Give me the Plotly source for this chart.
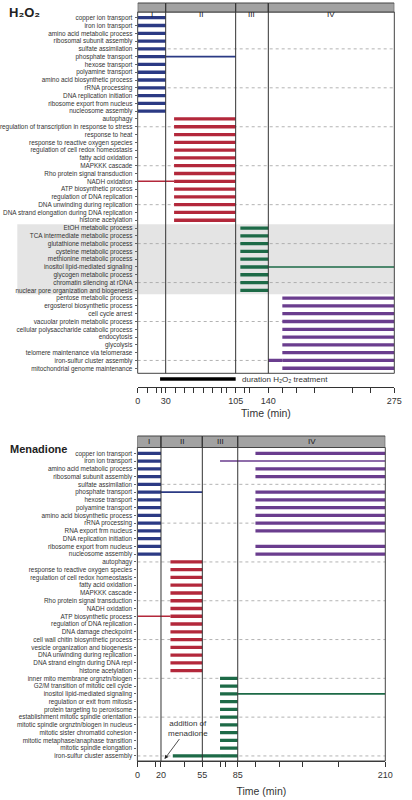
import plotly.graph_objects as go

W, H = 412, 800

# ---------------- H2O2 panel data ----------------
h2o2_blue = ["copper ion transport", "iron ion transport", "amino acid metabolic process",
             "ribosomal subunit assembly", "sulfate assimilation", "phosphate transport",
             "hexose transport", "polyamine transport", "amino acid biosynthetic process",
             "rRNA processing", "DNA replication initiation", "ribosome export from nucleus",
             "nucleosome assembly"]
h2o2_red = ["autophagy", "regulation of transcription in response to stress", "response to heat",
            "response to reactive oxygen species", "regulation of cell redox homeostasis",
            "fatty acid oxidation", "MAPKKK cascade", "Rho protein signal transduction",
            "NADH oxidation", "ATP biosynthetic process", "regulation of DNA replication",
            "DNA unwinding during replication", "DNA strand elongation during DNA replication",
            "histone acetylation"]
h2o2_green = ["EtOH metabolic process", "TCA intermediate metabolic process",
              "glutathione metabolic process", "cysteine metabolic process",
              "methionine metabolic process", "inositol lipid-mediated signaling",
              "glycogen metabolic process", "chromatin silencing at rDNA",
              "nuclear pore organization and biogenesis"]
h2o2_purple = ["pentose metabolic process", "ergosterol biosynthetic process", "cell cycle arrest",
               "vacuolar protein metabolic process", "cellular polysaccharide catabolic process",
               "endocytosis", "glycolysis", "telomere maintenance via telomerase",
               "iron-sulfur cluster assembly", "mitochondrial genome maintenance"]
h2o2_phase_bounds = [0, 30, 105, 140, 275]
h2o2_group_span = {"blue": (0, 30), "red": (39, 105), "green": (110, 140), "purple": (155, 275)}
h2o2_extra = [
    ("phosphate transport", 30, 105, "blue", "thin"),
    ("NADH oxidation", 0, 39, "red", "thin"),
    ("inositol lipid-mediated signaling", 140, 275, "green", "thin"),
    ("iron-sulfur cluster assembly", 140, 155, "purple", "thick"),
]
h2o2_tick_labeled = [0, 30, 105, 140, 275]
h2o2_tick_minor = [10, 20, 25, 40, 50, 60, 70, 80, 90, 95, 115, 120, 155, 170, 190, 230, 250]
h2o2_treatment = (24, 105)

# ---------------- Menadione panel data ----------------
men_blue = ["copper ion transport", "iron ion transport", "amino acid metabolic process",
            "ribosomal subunit assembly", "sulfate assimilation", "phosphate transport",
            "hexose transport", "polyamine transport", "amino acid biosynthetic process",
            "rRNA processing", "RNA export frm nucleus", "DNA replication initiation",
            "ribosome export from nucleus", "nucleosome assembly"]
men_red = ["autophagy", "response to reactive oxygen species", "regulation of cell redox homeostasis",
           "fatty acid oxidation", "MAPKKK cascade", "Rho protein signal transduction",
           "NADH oxidation", "ATP biosynthetic process", "regulation of DNA replication",
           "DNA damage checkpoint", "cell wall chitin biosynthetic process",
           "vesicle organization and biogenesis", "DNA unwinding during replication",
           "DNA strand elngtn during DNA repl", "histone acetylation"]
men_green = ["inner mito membrane orgnztn/biogen", "G2/M transition of mitotic cell cycle",
             "inositol lipid-mediated signaling", "regulation or exit from mitosis",
             "protein targeting to peroxisome", "establishment mitotic spindle orientation",
             "mitotic spindle orgnztn/biogen in nucleus", "mitotic sister chromatid cohesion",
             "mitotic metaphase/anaphase transition", "mitotic spindle elongation",
             "iron-sulfur cluster assembly"]
men_purple_rows = ["copper ion transport", "amino acid metabolic process", "ribosomal subunit assembly",
                   "phosphate transport", "hexose transport", "polyamine transport",
                   "amino acid biosynthetic process", "rRNA processing", "RNA export frm nucleus",
                   "ribosome export from nucleus", "nucleosome assembly"]
men_phase_bounds = [0, 20, 55, 85, 210]
men_group_span = {"blue": (0, 20), "red": (28, 55), "green": (70, 85), "purple": (100, 210)}
men_extra = [
    ("phosphate transport", 20, 55, "blue", "thin"),
    ("iron ion transport", 70, 210, "purple", "thin"),
    ("ATP biosynthetic process", 0, 28, "red", "thin"),
    ("inositol lipid-mediated signaling", 85, 210, "green", "thin"),
    ("iron-sulfur cluster assembly", 30, 70, "green", "thick"),
]
men_tick_labeled = [0, 20, 55, 85, 210]
men_tick_minor = [15, 40, 70, 75, 100, 120, 140, 170]
men_addition_time = 23

phase_names = ["I", "II", "III", "IV"]

# ---------------- styles ----------------
COL = {"blue": "#2b3a84", "red": "#b3283b", "green": "#1d6a47", "purple": "#6a3d8e"}
WIDTH = {"thick": 3.3, "thin": 1.6}
FONT = "Liberation Sans, Arial, Helvetica, DejaVu Sans, sans-serif"


def py(px):
    return 1 - px / H


P1 = dict(x0=137, x1=402, head_top=3, head_bot=12, row0=17.7, rowh=7.79,
          frame_bot=373.3, axis=386.7, standoff=5)
P2 = dict(x0=136.7, x1=392.7, head_top=436, head_bot=447.5, row0=453.3, rowh=7.76,
          frame_bot=761, axis=761, standoff=8)

fig = go.Figure()
shapes, annotations = [], []


def build_segments(groups, spans, extras, purple_rows=None):
    segs = []
    for g, rows in groups:
        for r in rows:
            segs.append((r, spans[g][0], spans[g][1], g, "thick"))
    if purple_rows:
        for r in purple_rows:
            segs.append((r, spans["purple"][0], spans["purple"][1], "purple", "thick"))
    return segs + extras


def add_panel(rows, segs, bounds, P, xa, ya, ticks_lab, ticks_min, xr):
    n = len(rows)
    idx = {r: i for i, r in enumerate(rows)}
    grouped = {}
    for r, a, b, c, w in segs:
        gx, gy = grouped.setdefault((w, c), ([], []))
        gx += [a, b, None]
        gy += [idx[r], idx[r], None]
    for (w, c) in sorted(grouped, key=lambda k: k[0] != "thin"):
        gx, gy = grouped[(w, c)]
        fig.add_trace(go.Scatter(x=gx, y=gy, mode="lines", xaxis=xa, yaxis=ya,
                                 line=dict(color=COL[c], width=WIDTH[w]),
                                 hoverinfo="skip", showlegend=False))
    ybot = (P["frame_bot"] - P["row0"]) / P["rowh"]
    ytop = (P["head_bot"] - P["row0"]) / P["rowh"]
    xk = "xaxis" if xa == "x" else "xaxis" + xa[1:]
    yk = "yaxis" if ya == "y" else "yaxis" + ya[1:]
    xaxis = dict(domain=[P["x0"] / W, P["x1"] / W], range=list(xr),
                 showline=True, linecolor="#333", linewidth=1,
                 ticks="outside", ticklen=5, tickcolor="#333", tickwidth=1,
                 tickmode="array", tickvals=ticks_lab, ticktext=[str(v) for v in ticks_lab],
                 minor=dict(tickmode="array", tickvals=ticks_min, ticks="outside",
                            ticklen=5, tickcolor="#333", tickwidth=1, showgrid=False),
                 tickfont=dict(size=9, color="#333"), showgrid=False, zeroline=False,
                 title=dict(text="Time (min)", font=dict(size=10.5, color="#333"),
                            standoff=P["standoff"]))
    if P["axis"] != P["frame_bot"]:
        xaxis.update(anchor="free", position=py(P["axis"]))
    else:
        xaxis.update(anchor=ya)
    yaxis = dict(domain=[py(P["frame_bot"]), py(P["head_bot"])], range=[ybot, ytop],
                 anchor=xa, tickmode="array", tickvals=list(range(n)), ticktext=rows,
                 ticks="outside", ticklen=2, tickcolor="#666",
                 tickfont=dict(size=6.4, color="#333"), ticklabelstandoff=1,
                 showgrid=False, zeroline=False, showline=False)
    fig.update_layout({xk: xaxis, yk: yaxis})
    # dashed guide every 5th row
    for i in range(4, n, 5):
        shapes.append(dict(type="line", xref=xa + " domain", yref=ya, x0=0, x1=1, y0=i, y1=i,
                           line=dict(color="#a0a0a0", width=0.8, dash="3px,3px"), layer="below"))
    # frame
    shapes.append(dict(type="rect", xref=xa + " domain", yref=ya + " domain", x0=0, x1=1, y0=0, y1=1,
                       line=dict(color="#444", width=1), fillcolor="rgba(0,0,0,0)", layer="above"))
    # header with phase numerals
    for k in range(4):
        shapes.append(dict(type="rect", xref=xa, yref="paper", x0=bounds[k], x1=bounds[k + 1],
                           y0=py(P["head_bot"]), y1=py(P["head_top"]),
                           fillcolor="#a2a2a2", line=dict(color="#444", width=1), layer="above"))
        annotations.append(dict(x=(bounds[k] + bounds[k + 1]) / 2, xref=xa,
                                y=py((P["head_top"] + P["head_bot"]) / 2), yref="paper",
                                text=phase_names[k], showarrow=False,
                                font=dict(size=8, color="#1a1a1a")))
    for b in bounds[1:-1]:
        shapes.append(dict(type="line", xref=xa, yref="paper", x0=b, x1=b,
                           y0=py(P["frame_bot"]), y1=py(P["head_top"]),
                           line=dict(color="#333", width=1), layer="above"))


# ---- H2O2 ----
h2o2_rows = h2o2_blue + h2o2_red + h2o2_green + h2o2_purple
h2o2_segs = build_segments([("blue", h2o2_blue), ("red", h2o2_red), ("green", h2o2_green),
                            ("purple", h2o2_purple)], h2o2_group_span, h2o2_extra)
g0 = h2o2_rows.index(h2o2_green[0])
g1 = h2o2_rows.index(h2o2_green[-1])
shapes.append(dict(type="rect", xref="paper", yref="y", x0=12.7 / W, x1=P1["x1"] / W,
                   y0=g0 - 0.5, y1=g1 + 0.5, fillcolor="#e4e4e4", line=dict(width=0), layer="below"))
add_panel(h2o2_rows, h2o2_segs, h2o2_phase_bounds, P1, "x", "y",
          h2o2_tick_labeled, h2o2_tick_minor, (0, 275))

shapes.append(dict(type="line", xref="x", yref="paper", x0=h2o2_treatment[0], x1=h2o2_treatment[1],
                   y0=py(379), y1=py(379), line=dict(color="black", width=3.5)))
annotations.append(dict(x=h2o2_treatment[1], xref="x", y=py(379), yref="paper", xanchor="left",
                        xshift=4, text="duration H₂O₂ treatment",
                        showarrow=False, font=dict(size=8, color="#333")))

# ---- Menadione ----
men_rows = men_blue + men_red + men_green
men_segs = build_segments([("blue", men_blue), ("red", men_red), ("green", men_green)],
                          men_group_span, men_extra, purple_rows=men_purple_rows)
add_panel(men_rows, men_segs, men_phase_bounds, P2, "x2", "y2",
          men_tick_labeled, men_tick_minor, (0, 210))

annotations.append(dict(x=men_addition_time, xref="x2", y=len(men_rows) - 0.6, yref="y2",
                        ax=23, ay=-31, text="addition of<br>menadione", showarrow=True,
                        arrowhead=2, arrowsize=1, arrowwidth=0.8, arrowcolor="#222",
                        font=dict(size=8, color="#333")))

annotations.append(dict(x=2 / W, xref="paper", y=py(3), yref="paper", xanchor="left",
                        yanchor="top", text="H₂O₂", showarrow=False,
                        font=dict(size=13, color="#222", weight="bold")))
annotations.append(dict(x=3 / W, xref="paper", y=py(449), yref="paper", xanchor="left",
                        text="Menadione", showarrow=False,
                        font=dict(size=11, color="#222", weight="bold")))

fig.update_layout(width=W, height=H, margin=dict(l=0, r=0, t=0, b=0),
                  paper_bgcolor="white", plot_bgcolor="rgba(0,0,0,0)",
                  font=dict(family=FONT, color="#333"), showlegend=False,
                  shapes=shapes, annotations=annotations)

fig.write_html("out.html", config={"displayModeBar": False, "staticPlot": True},
               post_script="document.body.style.margin='0px';")
